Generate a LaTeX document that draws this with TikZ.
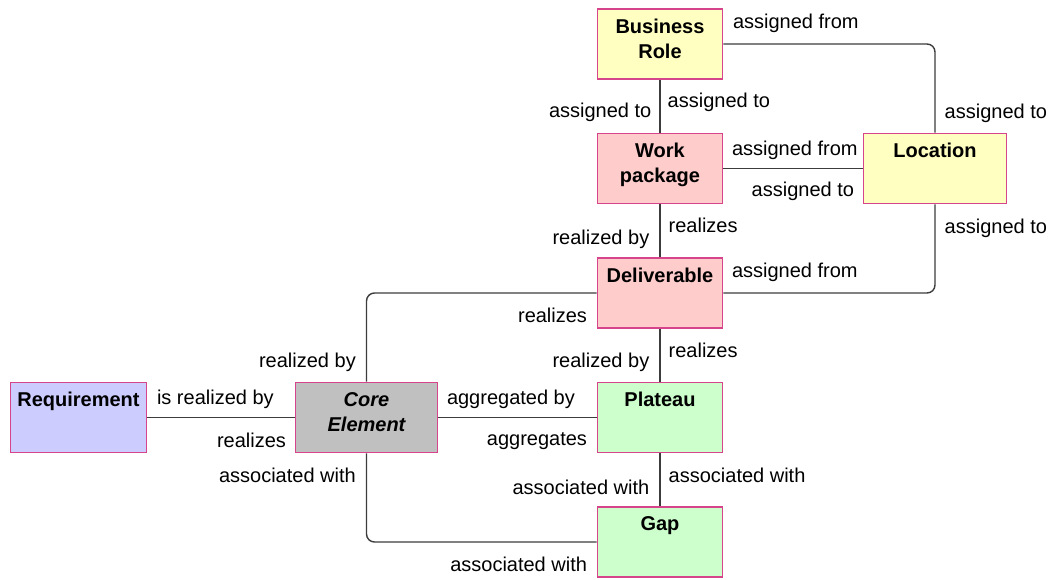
\documentclass[tikz,border=0pt]{standalone}
\usepackage{fontspec}
\setmainfont{Liberation Sans}
\usetikzlibrary{positioning}
\definecolor{edge}{RGB}{214,68,140}
\definecolor{wire}{RGB}{60,60,60}
\definecolor{yel}{RGB}{255,255,194}
\definecolor{pnk}{RGB}{255,204,204}
\definecolor{lav}{RGB}{204,204,255}
\definecolor{gry}{RGB}{192,192,192}
\definecolor{grn}{RGB}{204,255,204}
\tikzset{
  elem/.style={draw=edge,line width=1.6pt,minimum width=125pt,minimum height=70pt,inner sep=0pt},
  ttl/.style={anchor=north,yshift=-10.5pt,inner sep=0pt,align=center,font=\bfseries\fontsize{20}{25}\selectfont},
  lbl/.style={inner sep=0pt,text height=14pt,text depth=4pt,yshift=-2.5pt,font=\fontsize{20}{24}\selectfont},
  wire/.style={draw=wire,line width=1.4pt,rounded corners=8pt}
}
\begin{document}
\begin{tikzpicture}[x=1pt,y=-1pt]
\useasboundingbox (0,0) rectangle (1057,579);
% elements
\node[elem,fill=yel] (BR) at (660,44) {};
\node[ttl] (BRt) at (BR.north) {Business\\Role};
\node[elem,fill=pnk] (WP) at (660,168.5) {};
\node[ttl] (WPt) at (WP.north) {Work\\package};
\node[elem,fill=yel,minimum width=143pt] (L) at (935,168.5) {};
\node[ttl] (Lt) at (L.north) {Location};
\node[elem,fill=pnk] (D) at (660,293) {};
\node[ttl] (Dt) at (D.north) {Deliverable};
\node[elem,fill=lav,minimum width=136pt] (R) at (78.5,417.5) {};
\node[ttl] (Rt) at (R.north) {Requirement};
\node[elem,fill=gry,minimum width=142pt] (C) at (366.5,417.5) {};
\node[ttl,font=\bfseries\itshape\fontsize{20}{25}\selectfont] (Ct) at (C.north) {Core\\Element};
\node[elem,fill=grn] (P) at (660,417.5) {};
\node[ttl] (Pt) at (P.north) {Plateau};
\node[elem,fill=grn] (G) at (660,542) {};
\node[ttl] (Gt) at (G.north) {Gap};
% relations
\path[wire] (BR) -- node[lbl,pos=.38,right=7pt] {assigned to}
                    node[lbl,pos=.58,left=8pt] {assigned to} (WP);
\path[wire] (BR.east) -| node[lbl,pos=0,above right=13pt and 9pt] {assigned from}
                         node[lbl,pos=.876,right=9pt] {assigned to} (L.north);
\path[wire] (WP) -- node[lbl,pos=0,above right=11pt and 8pt] {assigned from}
                    node[lbl,pos=1,below left=11pt and 8pt] {assigned to} (L);
\path[wire] (WP) -- node[lbl,pos=.62,left=10pt] {realized by}
                    node[lbl,pos=.40,right=8pt] {realizes} (D);
\path[wire] (D.east) -| node[lbl,pos=0,above right=13pt and 8pt] {assigned from}
                        node[lbl,pos=.876,right=9pt] {assigned to} (L.south);
\path[wire] (D.west) -| node[lbl,pos=0,below left=12pt and 9pt] {realizes}
                        node[lbl,pos=.876,left=10pt] {realized by} (C.north);
\path[wire] (D) -- node[lbl,pos=.585,left=10pt] {realized by}
                   node[lbl,pos=.40,right=8pt] {realizes} (P);
\path[wire] (R) -- node[lbl,pos=0,above right=11pt and 9pt] {is realized by}
                   node[lbl,pos=1,below left=13pt and 8pt] {realizes} (C);
\path[wire] (C) -- node[lbl,pos=0,above right=11pt and 8pt] {aggregated by}
                   node[lbl,pos=1,below left=11pt and 9pt] {aggregates} (P);
\path[wire] (C.south) |- node[lbl,pos=.124,left=10pt] {associated with}
                         node[lbl,pos=1,below left=12pt and 9pt] {associated with} (G.west);
\path[wire] (P) -- node[lbl,pos=.41,right=8pt] {associated with}
                   node[lbl,pos=.63,left=10pt] {associated with} (G);
\end{tikzpicture}
\end{document}
